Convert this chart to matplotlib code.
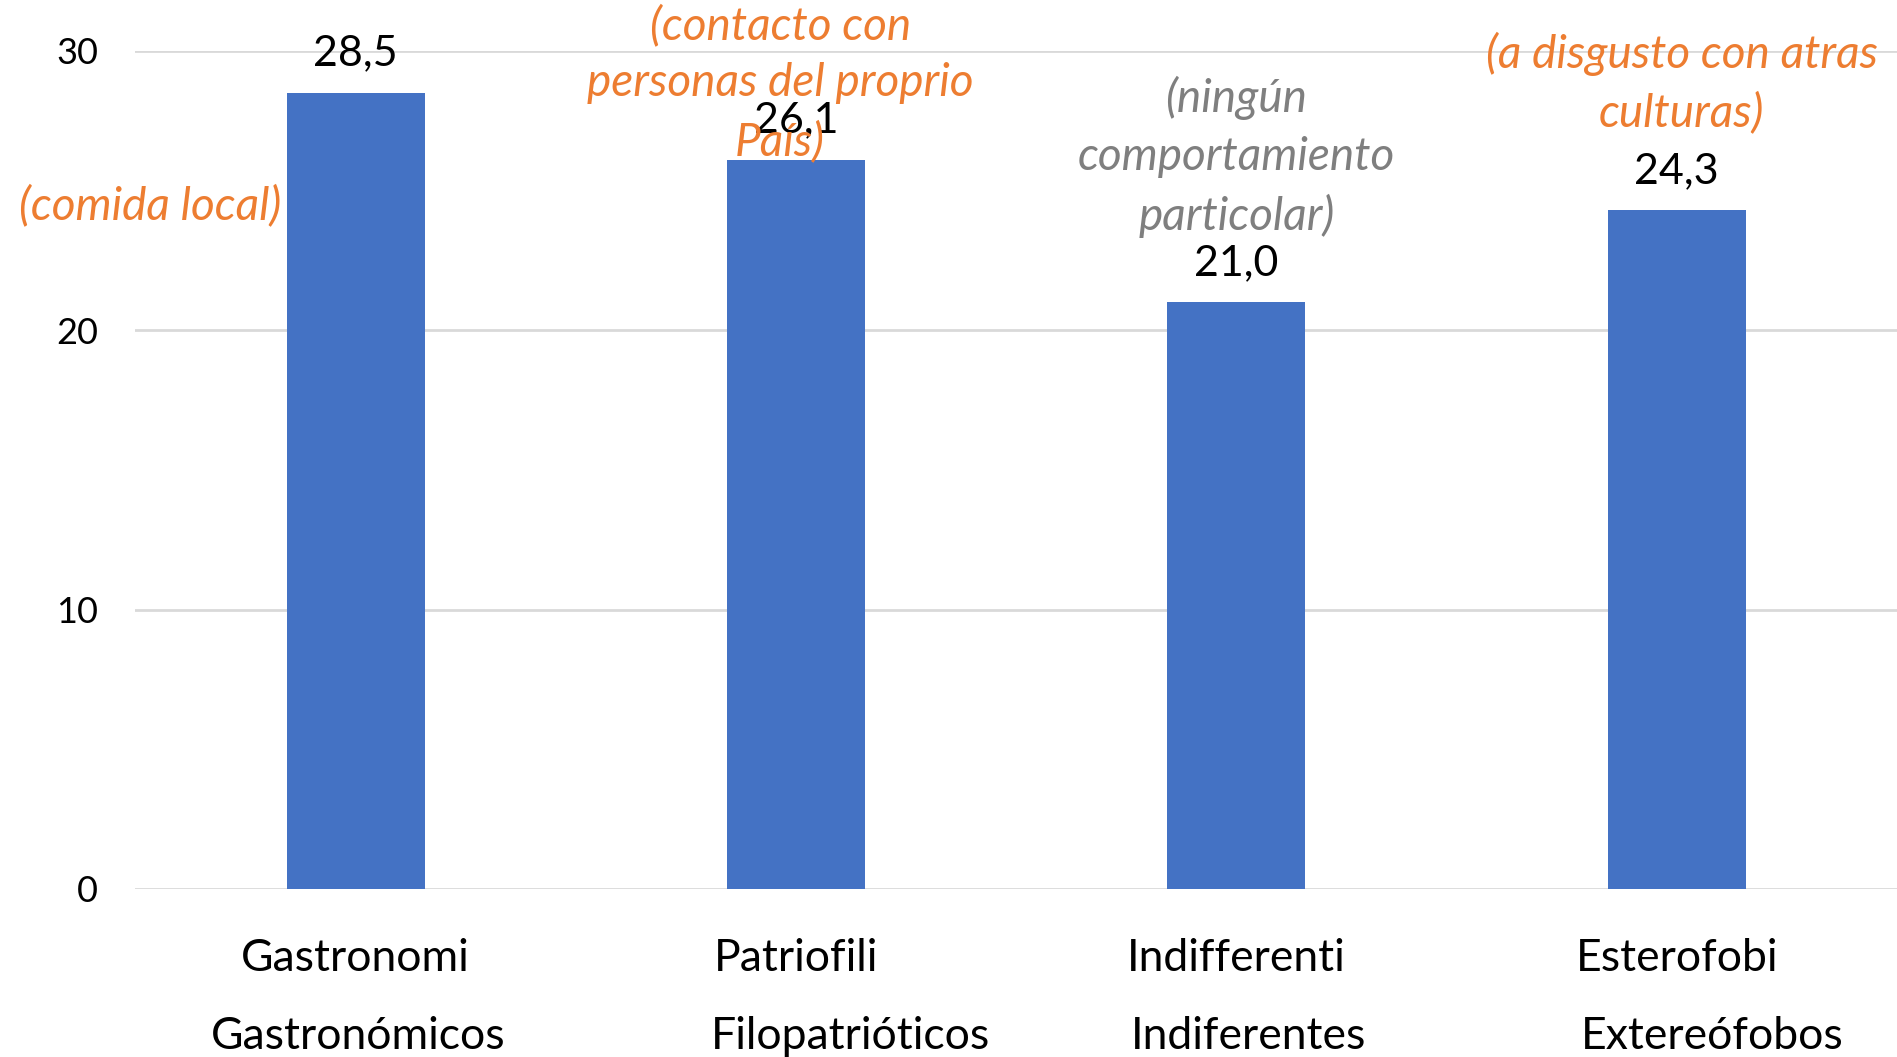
import matplotlib
matplotlib.use('Agg')
import matplotlib.pyplot as plt
import numpy as np

plt.rcParams['font.family'] = ['Lato', 'DejaVu Sans']

# data
categorias_it = ['Gastronomi', 'Patriofili', 'Indifferenti', 'Esterofobi']
categorias_es = ['Gastronómicos', 'Filopatrióticos', 'Indiferentes', 'Extereófobos']
valores = [28.5, 26.1, 21.0, 24.3]
y_ticks = [0, 10, 20, 30]
notas = ['(comida local)',
         '(contacto con\npersonas del proprio\nPaís)',
         '(ningún\ncomportamiento\nparticolar)',
         '(a disgusto con atras\nculturas)']
notas_color = ['#ED7D31', '#ED7D31', '#7F7F7F', '#ED7D31']

# layout of the notes (data coords) and offsets of the spanish labels
notas_xy = [(-0.467, 24.46), (0.964, 28.83), (2.0, 26.19), (3.011, 28.85)]
es_dx = [0.005, 0.124, 0.027, 0.08]

fig = plt.figure(figsize=(18.97, 10.57), dpi=100)
ax = fig.add_axes([0.0714, 0.159, 0.9286, 0.793])

x = np.arange(len(valores))
bars = ax.bar(x, valores, width=0.313, color='#4472C4', zorder=2)

ax.set_xlim(-0.5, 3.5)
ax.set_ylim(0, 30)
ax.set_yticks(y_ticks)
ax.set_yticklabels([str(t) for t in y_ticks], fontsize=26)
ax.tick_params(axis='y', length=0, pad=27)
ax.yaxis.grid(True, color='#D9D9D9', linewidth=2, zorder=0)
ax.set_xticks(x)
ax.set_xticklabels(categorias_it, fontsize=32)
ax.tick_params(axis='x', length=0, pad=35)
for s in ['top', 'right', 'left', 'bottom']:
    ax.spines[s].set_visible(False)

# spanish names as a second row
for i, lab in enumerate(categorias_es):
    ax.annotate(lab, xy=(x[i] + es_dx[i], 0), xycoords='data', xytext=(0, -148),
                textcoords='offset pixels', ha='center', va='center', fontsize=32,
                annotation_clip=False)

# value labels
for i, v in enumerate(valores):
    ax.annotate(f'{v:.1f}'.replace('.', ','), xy=(x[i], v), xytext=(0, 39),
                textcoords='offset pixels', ha='center', va='center', fontsize=31)

# notes
for i, n in enumerate(notas):
    ax.text(notas_xy[i][0], notas_xy[i][1], n, ha='center', va='center', fontsize=33,
            style='italic', color=notas_color[i], linespacing=1.45, clip_on=False)

fig.savefig('out.png', dpi=100)
